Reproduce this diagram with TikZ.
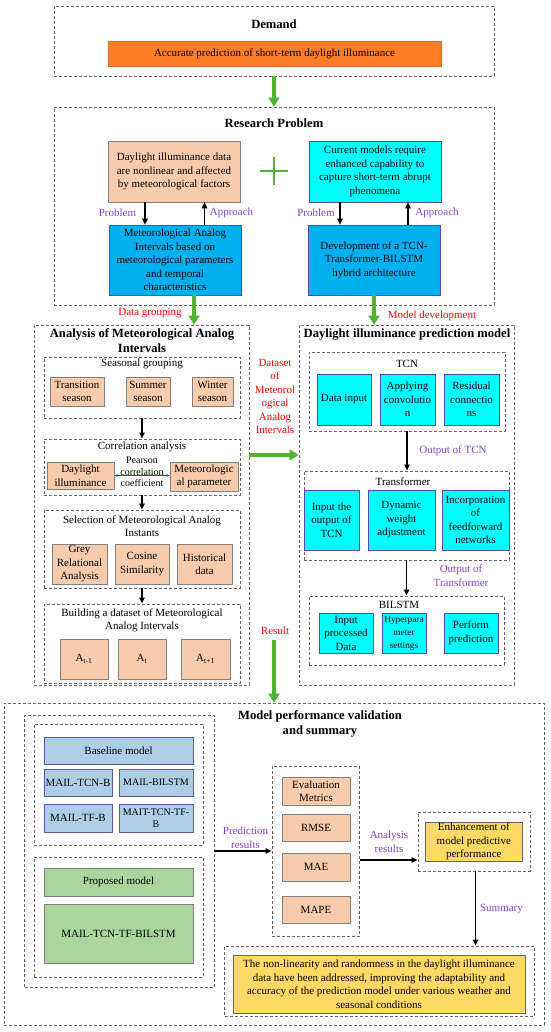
\documentclass[tikz,border=0pt]{standalone}
\usepackage{fontspec}
\setmainfont{Liberation Serif}
\usepackage{xcolor}
\usepackage{tikz}
\usetikzlibrary{arrows.meta}

\definecolor{orangefill}{RGB}{255,125,40}
\definecolor{peach}{RGB}{248,203,173}
\definecolor{aqua}{RGB}{0,255,255}
\definecolor{skyblue}{RGB}{0,176,240}
\definecolor{paleblue}{RGB}{174,206,232}
\definecolor{palegreen}{RGB}{170,214,158}
\definecolor{gold}{RGB}{255,217,102}
\definecolor{arrowgreen}{RGB}{80,180,50}
\definecolor{lblpurple}{RGB}{135,65,200}

\tikzset{
  group/.style={draw=black!60, dash pattern=on 3pt off 2pt, line width=0.9pt},
  grptitle/.style={font=\fontsize{12.6}{15}\selectfont\bfseries, align=center, inner sep=0pt},
  subtitle/.style={align=center, inner sep=0pt},
  box/.style={draw=black!50, line width=0.7pt, align=center, inner sep=0.5pt},
  peachbox/.style={box, fill=peach},
  aquabox/.style={box, fill=aqua, draw=blue!40!gray},
  skybox/.style={box, fill=skyblue, draw=blue!40!gray},
  palebox/.style={box, fill=paleblue, draw=blue!30!gray},
  greenbox/.style={box, fill=palegreen, draw=black!50},
  goldbox/.style={box, fill=gold, draw=black!60},
  smalltext/.style={font=\fontsize{10}{11.5}\selectfont},
  greenarr/.style={draw=arrowgreen, line width=3.5pt, -{Triangle[width=11pt,length=9pt]}},
  blackarr/.style={draw=black, line width=1.2pt, -{Triangle[width=5.5pt,length=6pt]}},
  purplelbl/.style={text=lblpurple, align=center, inner sep=0pt},
  redlbl/.style={text=red, align=center, inner sep=0pt}
}

\begin{document}
\begin{tikzpicture}[x=1pt, y=-1pt, font=\fontsize{11}{13.5}\selectfont]
    \useasboundingbox (0,0) rectangle (550,1032);

    % Demand
    \node[group, minimum width=440, minimum height=70] (demand) at (274,41) {};
    \node[grptitle] (demandT) at (274,24) {Demand};
    \node[box, fill=orangefill, draw=orangefill!85!black, minimum width=333, minimum height=25] (need) at (274.5,53.5) {Accurate prediction of short-term daylight illuminance};

    % Research problem
    \node[group, minimum width=440, minimum height=198] (research) at (274,206) {};
    \node[grptitle] (researchT) at (274,123) {Research Problem};
    \node[peachbox, minimum width=132, minimum height=61] (prob1) at (174,171.5) {Daylight illuminance data\\are nonlinear and affected\\by meteorological factors};
    \node[aquabox, minimum width=132, minimum height=61] (prob2) at (375,171.5) {Current models require\\enhanced capability to\\capture short-term abrupt\\phenomena};
    \node[skybox, minimum width=132, minimum height=70] (appr1) at (175,260) {Meteorological Analog\\Intervals based on\\meteorological parameters\\and temporal\\characteristics};
    \node[skybox, minimum width=132, minimum height=70] (appr2) at (374,260) {Development of a TCN-\\Transformer-BILSTM\\hybrid architecture};
    \coordinate (plus) at (274,171);
    \draw[arrowgreen, line width=1.6pt] ([xshift=-14pt]plus) -- ([xshift=14pt]plus);
    \draw[arrowgreen, line width=1.6pt] ([yshift=14pt]plus) -- ([yshift=-14pt]plus);
    \draw[blackarr] ([xshift=-29pt]prob1.south) -- ([xshift=-29pt]prob1.south |- appr1.north);
    \draw[blackarr] ([xshift=30.5pt]prob1.south |- appr1.north) -- ([xshift=30.5pt]prob1.south);
    \draw[blackarr] ([xshift=-35pt]prob2.south) -- ([xshift=-35pt]prob2.south |- appr2.north);
    \draw[blackarr] ([xshift=33pt]prob2.south |- appr2.north) -- ([xshift=33pt]prob2.south);
    \node[purplelbl] (lp1) at (117.5,213) {Problem};
    \node[purplelbl] (la1) at (231.5,213) {Approach};
    \node[purplelbl] (lp2) at (316,213) {Problem};
    \node[purplelbl] (la2) at (437,213) {Approach};

    \draw[greenarr] (demand.south) -- (research.north);

    % Analysis of meteorological analog intervals
    \node[group, minimum width=215, minimum height=360] (analysis) at (141.5,505) {};
    \node[grptitle] (analysisT) at (142,340.5) {Analysis of Meteorological Analog\\Intervals};

    \node[group, minimum width=196, minimum height=61] (season) at (142,387.5) {};
    \node[subtitle] (seasonT) at (142,364) {Seasonal grouping};
    \node[peachbox, minimum width=54, minimum height=29] (trans) at (77,391.5) {Transition\\season};
    \node[peachbox, minimum width=44, minimum height=29] (summer) at (148,391.5) {Summer\\season};
    \node[peachbox, minimum width=41, minimum height=29] (winter) at (212.5,391.5) {Winter\\season};

    \node[group, minimum width=196, minimum height=56] (corr) at (142,467) {};
    \node[subtitle] (corrT) at (142,447) {Correlation analysis};
    \node[peachbox, minimum width=67, minimum height=27] (dayl) at (80.5,475.5) {Daylight\\illuminance};
    \node[peachbox, minimum width=68, minimum height=29] (meteo) at (204,476.5) {Meteorologic\\al parameter};
    \node[subtitle, smalltext] (pearson) at (142,472) {Pearson\\correlation\\coefficient};
    \draw[{Latex[length=3pt,width=3pt]}-{Latex[length=3pt,width=3pt]}, draw=blue!70!cyan, line width=0.8pt] (dayl.east) -- (dayl.east -| meteo.west);

    \node[group, minimum width=196, minimum height=78] (select) at (142,549) {};
    \node[subtitle] (selectT) at (142,526) {Selection of Meteorological Analog\\Instants};
    \node[peachbox, minimum width=55, minimum height=40] (grey) at (79.5,564) {Grey\\Relational\\Analysis};
    \node[peachbox, minimum width=54, minimum height=40] (cosine) at (142,564) {Cosine\\Similarity};
    \node[peachbox, minimum width=55, minimum height=40] (hist) at (204.5,564) {Historical\\data};

    \node[group, minimum width=196, minimum height=79] (build) at (142,643.5) {};
    \node[subtitle] (buildT) at (142,620.5) {Building a dataset of Meteorological\\Analog Intervals};
    \node[peachbox, minimum width=48, minimum height=40] (aprev) at (84,659) {A\textsubscript{t-1}};
    \node[peachbox, minimum width=48, minimum height=40] (acur) at (142,659) {A\textsubscript{t}};
    \node[peachbox, minimum width=49, minimum height=40] (anext) at (205.5,659) {A\textsubscript{t+1}};

    \draw[blackarr] (season.south) -- (corr.north);
    \draw[blackarr] (corr.south) -- (select.north);
    \draw[blackarr] (select.south) -- (build.north);

    % Daylight illuminance prediction model
    \node[group, minimum width=215, minimum height=360] (model) at (406.5,505) {};
    \node[grptitle] (modelT) at (407,335) {Daylight illuminance prediction model};

    \node[group, minimum width=196, minimum height=79] (tcn) at (407,391.5) {};
    \node[subtitle] (tcnT) at (407,364) {TCN};
    \node[aquabox, minimum width=54, minimum height=51] (datain) at (344,399.5) {Data input};
    \node[aquabox, minimum width=55, minimum height=51] (conv) at (407.5,399.5) {Applying\\convolutio\\n};
    \node[aquabox, minimum width=55, minimum height=51] (resid) at (471.5,399.5) {Residual\\connectio\\ns};

    \node[group, minimum width=205, minimum height=89] (tf) at (406.5,515.5) {};
    \node[subtitle] (tfT) at (403,482) {Transformer};
    \node[aquabox, minimum width=55, minimum height=60] (tfin) at (331.5,520) {Input the\\output of\\TCN};
    \node[aquabox, minimum width=67, minimum height=60] (dyn) at (401.5,520) {Dynamic\\weight\\adjustment};
    \node[aquabox, minimum width=67, minimum height=60] (ffn) at (475.5,520) {Incorporation\\of\\feedforward\\networks};

    \node[group, minimum width=195, minimum height=69] (bil) at (406.5,630.5) {};
    \node[subtitle] (bilT) at (399,605) {BILSTM};
    \node[aquabox, minimum width=54, minimum height=40] (bilin) at (346,633) {Input\\processed\\Data};
    \node[aquabox, minimum width=44, minimum height=40, font=\fontsize{9.3}{13}\selectfont] (hyper) at (404,633) {Hyperpara\\meter\\settings};
    \node[aquabox, minimum width=54, minimum height=40] (pred) at (471,633) {Perform\\prediction};

    \draw[blackarr] (tcn.south) -- (tcn.south |- tf.north);
    \node[purplelbl] (outtcn) at (453,451) {Output of TCN};
    \draw[blackarr] (tf.south) -- (tf.south |- bil.north);
    \node[purplelbl] (outtf) at (461,575.5) {Output of\\Transformer};

    % Green arrows between stages
    \draw[greenarr] ([xshift=19pt]appr1.south) -- ([xshift=19pt]appr1.south |- analysis.north);
    \node[redlbl] (grouping) at (150,313) {Data grouping};
    \draw[greenarr] (appr2.south) -- (appr2.south |- model.north);
    \node[redlbl] (develop) at (432,316) {Model development};
    \draw[greenarr] ([yshift=50pt]analysis.east) -- ([yshift=50pt]model.west);
    \node[redlbl] (dataset) at (275,396.5) {Dataset\\of\\Meteorol\\ogical\\Analog\\Intervals};
    \coordinate (resultTop) at (274,640);
    \node[redlbl] (result) at (275,631) {Result};

    % Model performance validation and summary
    \node[group, minimum width=540, minimum height=322] (perf) at (274,864) {};
    \node[grptitle] (perfT) at (320,723.5) {Model performance validation\\and summary};
    \draw[greenarr] (resultTop) -- (resultTop |- perf.north);

    \node[group, minimum width=189.5, minimum height=272] (models) at (119.25,851) {};
    \node[group, minimum width=169, minimum height=121] (basegrp) at (118.5,784.5) {};
    \node[palebox, minimum width=149, minimum height=27] (base) at (118.5,750.5) {Baseline model};
    \node[palebox, minimum width=68, minimum height=27] (m1) at (78,782.5) {MAIL-TCN-B};
    \node[palebox, minimum width=74, minimum height=27, smalltext] (m2) at (156,782.5) {MAIL-BILSTM};
    \node[palebox, minimum width=68, minimum height=28] (m3) at (78,818) {MAIL-TF-B};
    \node[palebox, minimum width=74, minimum height=28, smalltext] (m4) at (156,818) {MAIT-TCN-TF-\\B};
    \node[group, minimum width=169, minimum height=120] (propgrp) at (118.5,917) {};
    \node[greenbox, minimum width=149, minimum height=28] (prop) at (118.5,882) {Proposed model};
    \node[greenbox, minimum width=149, minimum height=59] (ours) at (118.5,933.5) {MAIL-TCN-TF-BILSTM};

    \node[group, minimum width=87.5, minimum height=170] (evalgrp) at (315.75,851) {};
    \node[peachbox, minimum width=68, minimum height=28] (metrics) at (316,791) {Evaluation\\Metrics};
    \node[peachbox, minimum width=68, minimum height=27] (rmse) at (316,827.5) {RMSE};
    \node[peachbox, minimum width=68, minimum height=28] (mae) at (316,867) {MAE};
    \node[peachbox, minimum width=68, minimum height=27] (mape) at (316,909.5) {MAPE};

    \node[group, minimum width=112, minimum height=59] (enhgrp) at (474,841.5) {};
    \node[goldbox, minimum width=97.5, minimum height=39] (enh) at (473.8,841.5) {Enhancement of\\model predictive\\performance};

    \node[group, minimum width=309.5, minimum height=70] (concl) at (379.25,981) {};
    \node[goldbox, minimum width=292, minimum height=58] (conclT) at (379,984) {The non-linearity and randomness in the daylight illuminance\\data have been addressed, improving the adaptability and\\accuracy of the prediction model under various weather and\\seasonal conditions};

    \draw[blackarr] (models.east) -- (evalgrp.west);
    \node[purplelbl] (predres) at (245.5,837.5) {Prediction\\results};
    \draw[blackarr] ([yshift=-9pt]evalgrp.east) -- ([yshift=-9pt]evalgrp.east -| enhgrp.west);
    \node[purplelbl] (anares) at (389,841.5) {Analysis\\results};
    \draw[blackarr] ([xshift=1.5pt]enhgrp.south) -- ([xshift=1.5pt]enhgrp.south |- concl.north);
    \node[purplelbl] (summ) at (501.5,909) {Summary};
\end{tikzpicture}
\end{document}
